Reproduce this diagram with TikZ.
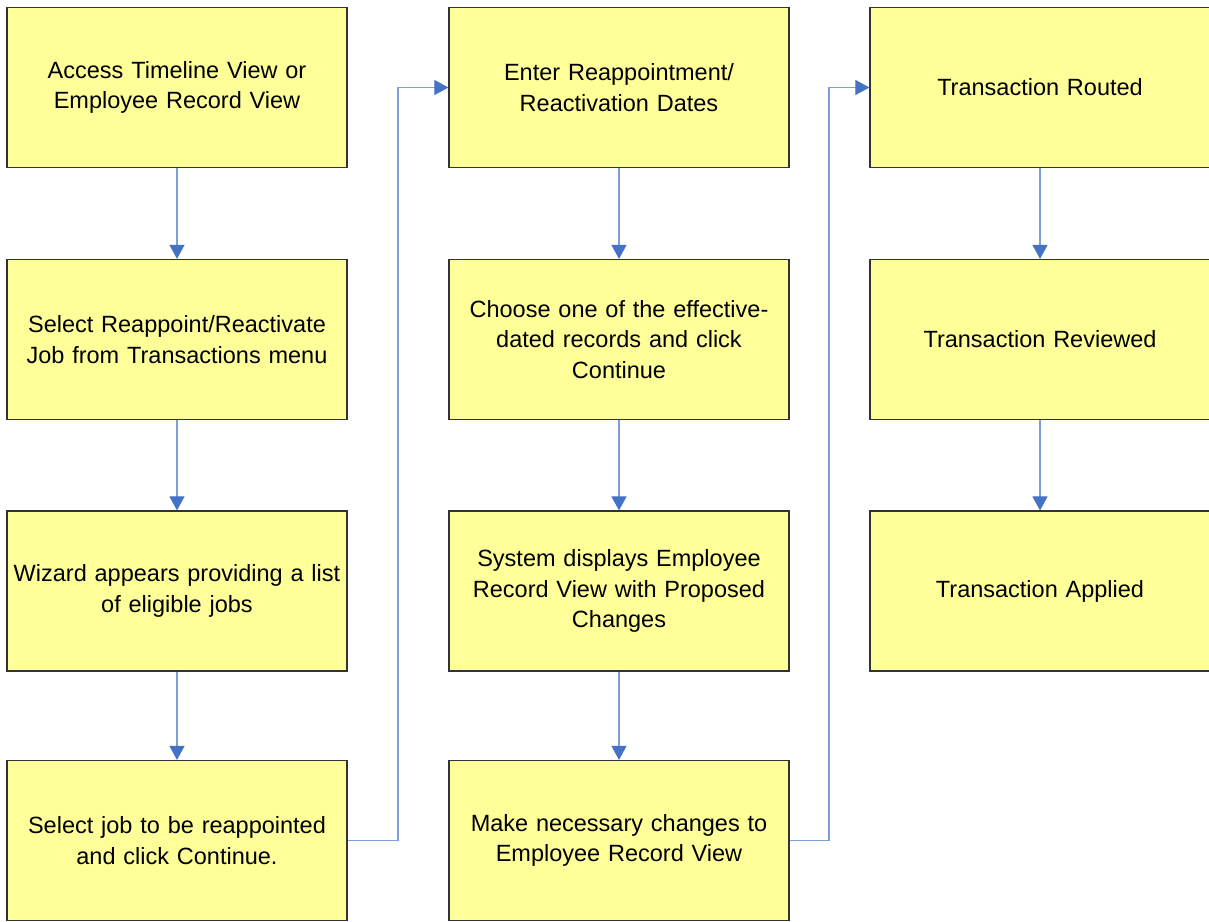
\documentclass[tikz,border=0pt]{standalone}
\usepackage{fontspec}
\setmainfont{Liberation Sans}
\usetikzlibrary{arrows.meta}
\definecolor{boxfill}{HTML}{FFFF99}
\definecolor{linec}{HTML}{7F9FD8}
\definecolor{tipc}{HTML}{4472C4}
\begin{document}
\begin{tikzpicture}[x=1pt,y=-1pt,
  stepbox/.style={draw=black!80,line width=1.2pt,fill=boxfill,minimum width=340pt,minimum height=160pt,
    text width=338pt,align=center,inner sep=0pt,font=\fontsize{23.5}{30.5}\selectfont},
  conn/.style={draw=linec,line width=1.1pt,-{Triangle[length=14pt,width=15pt,fill=tipc,color=tipc]}}]
\useasboundingbox (0,0) rectangle (1209,921);
\node[stepbox] (a1) at (177,87.5) {Access Timeline View or\\Employee Record View};
\node[stepbox] (a2) at (177,339.5) {Select Reappoint/Reactivate\\Job from Transactions menu};
\node[stepbox] (a3) at (177,591) {Wizard appears providing a list\\of eligible jobs};
\node[stepbox] (a4) at (177,840.5) {Select job to be reappointed\\and click Continue.};
\node[stepbox] (b1) at (619,87.5) {Enter Reappointment/\\Reactivation Dates};
\node[stepbox] (b2) at (619,339.5) {Choose one of the effective-\\dated records and click\\Continue};
\node[stepbox] (b3) at (619,591) {System displays Employee\\Record View with Proposed\\Changes};
\node[stepbox] (b4) at (619,840.5) {Make necessary changes to\\Employee Record View};
\node[stepbox] (c1) at (1040,87.5) {Transaction Routed};
\node[stepbox] (c2) at (1040,339.5) {Transaction Reviewed};
\node[stepbox] (c3) at (1040,591) {Transaction Applied};
\coordinate (j1) at (398,0);
\coordinate (j2) at (829,0);
\draw[conn] (a1) -- (a2);
\draw[conn] (a2) -- (a3);
\draw[conn] (a3) -- (a4);
\draw[conn] (b1) -- (b2);
\draw[conn] (b2) -- (b3);
\draw[conn] (b3) -- (b4);
\draw[conn] (c1) -- (c2);
\draw[conn] (c2) -- (c3);
\draw[conn] (a4.east) -- (a4.east -| j1) -- (b1.west -| j1) -- (b1.west);
\draw[conn] (b4.east) -- (b4.east -| j2) -- (c1.west -| j2) -- (c1.west);
\end{tikzpicture}
\end{document}
